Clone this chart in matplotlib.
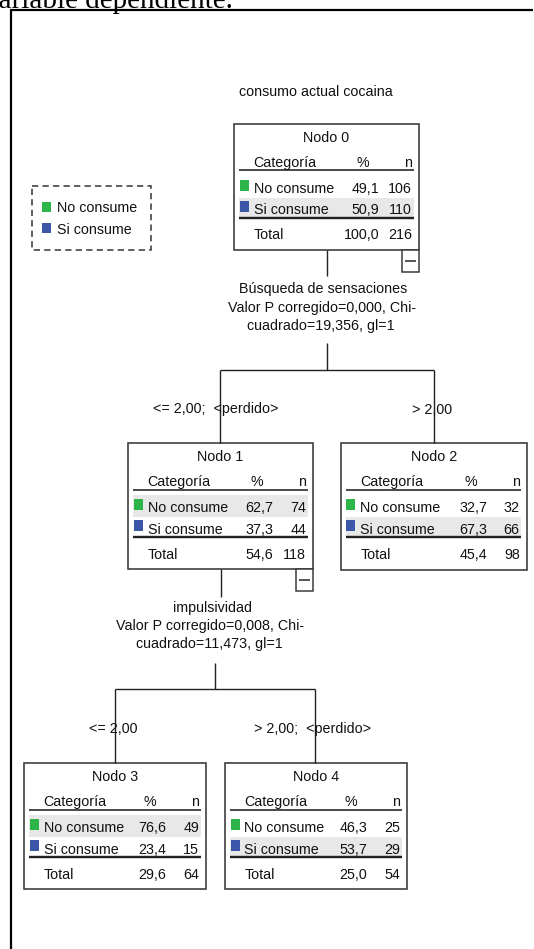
import matplotlib
matplotlib.use('Agg')
import matplotlib.pyplot as plt
from matplotlib.patches import Rectangle

# ---------------- data ----------------
categories = ['No consume', 'Si consume']
category_colors = ['#2eb54a', '#3c56aa']
node_names = ['Nodo 0', 'Nodo 1', 'Nodo 2', 'Nodo 3', 'Nodo 4']
pct_no = [49.1, 62.7, 32.7, 76.6, 46.3]
pct_si = [50.9, 37.3, 67.3, 23.4, 53.7]
n_no = [106, 74, 32, 49, 25]
n_si = [110, 44, 66, 15, 29]
total_pct = [100.0, 54.6, 45.4, 29.6, 25.0]
total_n = [216, 118, 98, 64, 54]
header = ['Categoría', '%', 'n']
total_label = 'Total'
root_label = 'consumo actual cocaina'
split1_text = ['Búsqueda de sensaciones', 'Valor P corregido=0,000, Chi-', 'cuadrado=19,356, gl=1']
split1_branches = ['<= 2,00;  <perdido>', '> 2,00']
split2_text = ['impulsividad', 'Valor P corregido=0,008, Chi-', 'cuadrado=11,473, gl=1']
split2_branches = ['<= 2,00', '> 2,00;  <perdido>']
caption = 'variable dependiente.'

# ---------------- layout (pixels) ----------------
W, H = 534, 949
fig = plt.figure(figsize=(W / 100, H / 100), dpi=100)
ax = fig.add_axes([0, 0, 1, 1])
ax.set_xlim(0, W)
ax.set_ylim(H, 0)
ax.axis('off')

PX = 72 / 100.0
FS = 10.3
FONT = ['Liberation Sans', 'DejaVu Sans']
EDGE = '#383838'
HIGHLIGHT = '#e8e8e8'

# (left, top, width, height, collapsible)
node_geo = [
    (234.0, 124.0, 185.0, 126.0, True),
    (128.0, 443.3, 185.0, 126.0, True),
    (340.7, 443.3, 186.0, 126.5, False),
    (24.0, 763.3, 182.0, 125.4, False),
    (225.0, 763.3, 182.0, 125.4, False),
]


def fmt(v):
    return f'{v:.1f}'.replace('.', ',')


def txt(x, y, s, ha='center', **kw):
    ax.text(x, y, s, ha=ha, va='baseline', fontsize=kw.pop('fontsize', FS),
            family=kw.pop('family', FONT), color=kw.pop('color', '#111111'),
            zorder=5, **kw)


def line(xs, ys, lw=1.4, color='#222222', zorder=4, **kw):
    ax.plot(xs, ys, color=color, lw=lw * PX, solid_capstyle='butt',
            zorder=zorder, **kw)


def draw_node(i):
    left, top, w, h, collapsible = node_geo[i]
    pcts = [pct_no[i], pct_si[i]]
    ns = [n_no[i], n_si[i]]
    lx0, lx1 = left + 5.0, left + w - 5.5
    # highlight majority row
    major = 0 if pcts[0] >= pcts[1] else 1
    bands = [(top + 51.5, top + 73.5), (top + 73.5, top + 93.0)]
    b0, b1 = bands[major]
    ax.add_patch(Rectangle((lx0, b0), lx1 - lx0, b1 - b0, facecolor=HIGHLIGHT,
                           edgecolor='none', zorder=1))
    # box
    ax.add_patch(Rectangle((left, top), w, h, facecolor='none', edgecolor=EDGE,
                           lw=1.6 * PX, zorder=3))
    cx = left + w / 2
    txt(cx, top + 17.7, node_names[i])
    x_cat = left + 19.5
    x_pct_c = left + w - 56.0
    x_pct_r = left + w - 39.5
    x_n_r = left + w - 7.0
    txt(x_cat, top + 42.5, header[0], ha='left')
    txt(x_pct_c, top + 42.5, header[1])
    txt(x_n_r, top + 42.5, header[2], ha='right')
    line([lx0, lx1], [top + 46.3, top + 46.3], lw=1.6)
    row_base = [top + 69.0, top + 90.3]
    for k in range(2):
        yb = row_base[k]
        ax.add_patch(Rectangle((left + 5.5, yb - 13.5), 9.0, 11.0,
                               facecolor=category_colors[k], edgecolor='none', zorder=2))
        txt(x_cat, yb, categories[k], ha='left')
        txt(x_pct_r, yb, fmt(pcts[k]), ha='right')
        txt(x_n_r, yb, str(ns[k]), ha='right')
    line([lx0, lx1], [top + 93.8, top + 93.8], lw=2.4)
    txt(x_cat, top + 115.3, total_label, ha='left')
    txt(x_pct_r, top + 115.3, fmt(total_pct[i]), ha='right')
    txt(x_n_r, top + 115.3, str(total_n[i]), ha='right')
    if collapsible:
        bx, by = left + w - 17.0, top + h
        ax.add_patch(Rectangle((bx, by), 17.0, 21.5, facecolor='white',
                               edgecolor=EDGE, lw=1.5 * PX, zorder=3))
        line([bx + 3.0, bx + 14.0], [by + 10.5, by + 10.5], lw=1.5, zorder=6)


# caption (cut off at top of picture, as in the reference)
txt(233, 7.5, caption, ha='right', family=['Liberation Serif', 'DejaVu Serif'],
    fontsize=21, color='black')

# outer frame
line([11, 11], [10, H + 5], lw=2.2, color='black')
line([10, 533], [10, 10], lw=2.2, color='black')

# legend
ax.add_patch(Rectangle((31.7, 186.0), 119.0, 64.0, fill=False, edgecolor='#303030',
                       lw=1.5 * PX, ls=(0, (4.2, 2.8))))
leg_base = [212.3, 234.0]
for k in range(2):
    ax.add_patch(Rectangle((42.3, leg_base[k] - 10.7), 8.5, 10.0,
                           facecolor=category_colors[k], edgecolor='none'))
    txt(56.7, leg_base[k], categories[k], ha='left')

# root label
txt(316, 95.7, root_label)

# nodes
for i in range(len(node_names)):
    draw_node(i)

# ---- first split ----
line([326.7, 326.7], [250.0, 276.0])
for j, s in enumerate(split1_text):
    txt([323, 322, 321][j], 293.5 + 18.3 * j, s)
line([326.7, 326.7], [343.3, 370.0])
line([220.0, 434.0], [370.0, 370.0])
line([220.0, 220.0], [370.0, 443.3])
line([433.5, 433.5], [370.0, 443.3])
txt(216, 413.5, split1_branches[0])
txt(432, 413.5, split1_branches[1])

# ---- second split ----
line([221.0, 221.0], [569.3, 597.0])
for j, s in enumerate(split2_text):
    txt([213, 210, 209][j], 611.7 + 18.3 * j, s)
line([215.0, 215.0], [662.7, 689.3])
line([115.0, 315.0], [689.3, 689.3])
line([115.0, 115.0], [689.3, 763.3])
line([315.0, 315.0], [689.3, 763.3])
txt(113, 732.7, split2_branches[0])
txt(312, 732.7, split2_branches[1])

fig.savefig('out.png', dpi=100, facecolor='white')
